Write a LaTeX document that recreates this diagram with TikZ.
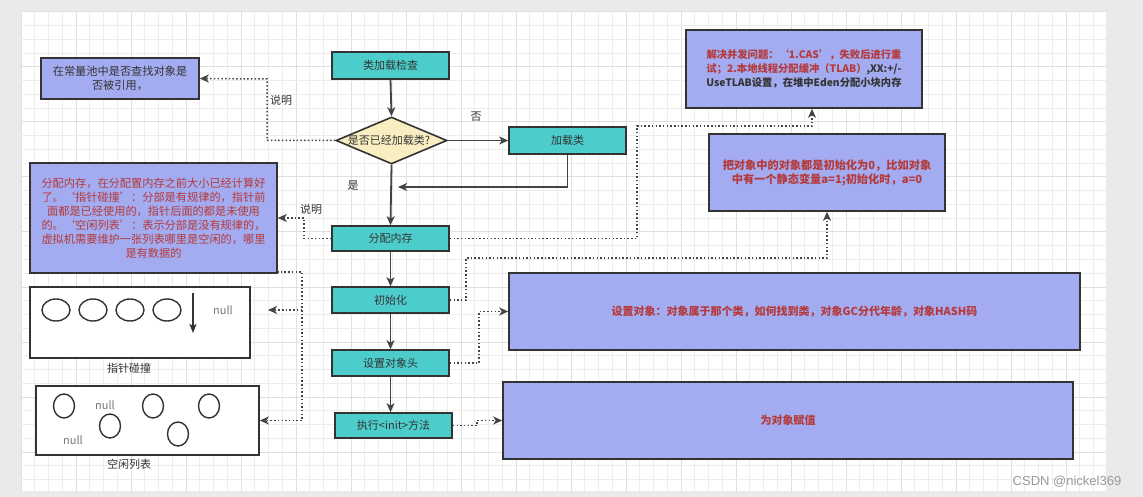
\documentclass[tikz,border=0pt]{standalone}
\usepackage{fontspec}
\setmainfont{Noto Sans CJK SC}
\newfontfamily\wmfont{Liberation Sans}
\usetikzlibrary{arrows.meta,shapes.geometric}
\definecolor{bgout}{HTML}{E9EAEC}
\definecolor{gridminor}{HTML}{EDEDED}
\definecolor{gridmajor}{HTML}{DFDFDF}
\definecolor{tealc}{HTML}{4CCDCC}
\definecolor{purp}{HTML}{A3ACF0}
\definecolor{diam}{HTML}{F8EEC2}
\definecolor{edgec}{HTML}{333333}
\definecolor{arrowc}{HTML}{444444}
\definecolor{txt}{HTML}{333333}
\definecolor{redt}{HTML}{B5393A}
\definecolor{nullc}{HTML}{777777}
\definecolor{wmc}{HTML}{9A9A9A}
\begin{document}
\begin{tikzpicture}[x=1pt,y=-1pt,
  flow/.style={draw=edgec, line width=1.6pt, fill=tealc, minimum width=117pt, minimum height=26pt, inner sep=0pt, font=\fontsize{11}{13}\selectfont, text=txt},
  notebox/.style={draw=edgec, line width=1.6pt, fill=purp, inner sep=0pt, align=center, font=\fontsize{11.2}{14}\selectfont, text=redt},
  whitebox/.style={draw=edgec, line width=1.6pt, fill=white, inner sep=0pt},
  blob/.style={draw=edgec, line width=1.4pt, ellipse, inner sep=0pt},
  lbl/.style={font=\fontsize{11}{13}\selectfont, text=txt, inner sep=0pt},
  nulltxt/.style={font=\fontsize{11}{13}\selectfont, text=nullc, inner sep=0pt},
  solidarrow/.style={draw=arrowc, line width=1.8pt, -{Stealth[length=9pt,width=8pt,inset=2.5pt]}},
  dotarrow/.style={draw=arrowc, line width=1.5pt, dash pattern=on 1.5pt off 2.2pt, -{Stealth[length=9pt,width=8pt,inset=2.5pt]}},
  dotline/.style={draw=arrowc, line width=1.5pt, dash pattern=on 1.5pt off 2.2pt}
]
\useasboundingbox (0,0) rectangle (1143,497);
% background and grid
\fill[bgout] (0,0) rectangle (1143,497);
\fill[white] (21,12) rectangle (1106,491);
\foreach \i in {0,...,78} {
  \pgfmathsetmacro{\xx}{21+13.75*\i}
  \ifnum\numexpr\i-4*(\i/4)\relax=0
    \draw[gridmajor, line width=1pt] (\xx,12) -- (\xx,491);
  \else
    \draw[gridminor, line width=1pt] (\xx,12) -- (\xx,491);
  \fi
}
\foreach \j in {0,...,34} {
  \pgfmathsetmacro{\yy}{12+13.75*\j}
  \ifnum\numexpr\j-4*(\j/4)\relax=0
    \draw[gridmajor, line width=1pt] (21,\yy) -- (1106,\yy);
  \else
    \draw[gridminor, line width=1pt] (21,\yy) -- (1106,\yy);
  \fi
}

% main flow
\node[flow, minimum height=27pt] (check) at (390.5,65.5) {类加载检查};
\node[draw=edgec, line width=1.6pt, fill=diam, diamond, minimum width=111pt, minimum height=47pt, inner sep=0pt] (dia) at (391.5,140.5) {};
\node[lbl] (diatext) at (389,140.5) {是否已经加载类?};
\node[flow, minimum height=27pt] (load) at (567.5,140.5) {加载类};
\node[flow, minimum height=25pt] (alloc) at (390.5,238.5) {分配内存};
\node[flow] (init) at (390.5,300) {初始化};
\node[flow] (header) at (390.5,363) {设置对象头};
\node[flow, minimum height=25pt] (exec) at (393.5,425.5) {执行<init>方法};

\node[lbl] (no) at (476,117) {否};
\node[lbl] (yes) at (353,186) {是};
\coordinate (ret) at (398,187);

\draw[solidarrow] (check.south) -- (dia.north);
\draw[solidarrow] (dia.east) -- (load.west);
\draw[solidarrow] (load.south) |- (ret);
\draw[solidarrow] (dia.south) -- (alloc.north);
\draw[solidarrow] (alloc.south) -- (init.north);
\draw[solidarrow] (init.south) -- (header.north);
\draw[solidarrow] (header.south) -- (header.south |- exec.north);

% left notes
\node[notebox, text=txt, minimum width=158pt, minimum height=41pt] (note1) at (120,78.5) {在常量池中是否查找对象是\\否被引用，};
\node[notebox, minimum width=247pt, minimum height=110pt] (note2) at (153.5,218) {分配内存，在分配置内存之前大小已经计算好\\了。‘指针碰撞’：分部是有规律的，指针前\\面都是已经使用的，指针后面的都是未使用\\的。‘空闲列表’：表示分部是没有规律的，\\虚拟机需要维护一张列表哪里是空闲的，哪里\\是有数据的};

\draw[dotarrow] (dia.west) -| (267,79) -- (note1.east);
\node[lbl] (say1) at (281,100) {说明};
\draw[dotarrow] (alloc.west) -| (304,218) -- (note2.east);
\node[lbl] (say2) at (311,209) {说明};

% pointer bump picture
\node[whitebox, minimum width=220pt, minimum height=71pt] (ptr) at (140,322.5) {};
\node[blob, minimum width=28pt, minimum height=22pt] (e1) at (56,310) {};
\node[blob, minimum width=28pt, minimum height=22pt] (e2) at (93,310) {};
\node[blob, minimum width=28pt, minimum height=22pt] (e3) at (130,310) {};
\node[blob, minimum width=28pt, minimum height=22pt] (e4) at (167,310) {};
\coordinate (pa) at (193,293);
\coordinate (pb) at (193,333);
\draw[draw=edgec, line width=1.5pt, -{Stealth[length=9pt,width=7pt,inset=2pt]}] (pa) -- (pb);
\node[nulltxt] (null1) at (223,310) {null};
\node[lbl] (ptrlbl) at (129,368) {指针碰撞};

% free list picture
\node[whitebox, minimum width=223pt, minimum height=69pt] (free) at (147.5,420.5) {};
\node[blob, minimum width=21pt, minimum height=24pt] (f1) at (64,406) {};
\node[blob, minimum width=21pt, minimum height=24pt] (f2) at (110,426) {};
\node[blob, minimum width=21pt, minimum height=24pt] (f3) at (153,406) {};
\node[blob, minimum width=21pt, minimum height=24pt] (f4) at (209,406) {};
\node[blob, minimum width=21pt, minimum height=24pt] (f5) at (178,434) {};
\node[nulltxt] (null2) at (105,405) {null};
\node[nulltxt] (null3) at (73,440) {null};
\node[lbl] (freelbl) at (129,464) {空闲列表};

\coordinate (n2out) at (277,272);
\coordinate (split) at (302,310);
\coordinate (ptrin) at (268,310);
\draw[dotline] (n2out) -| (split);
\draw[dotarrow] (split) -- (ptrin);
\draw[dotarrow] (split) |- (free.east);

% right notes
\node[notebox, font=\bfseries\fontsize{10.3}{14}\selectfont, minimum width=236pt, minimum height=78pt] (boxA) at (804,69) {解决并发问题：‘1.CAS’，失败后进行重\\试；2.本地线程分配缓冲（TLAB）\textcolor{txt}{,XX:+/-}\\\textcolor{txt}{UseTLAB设置，在堆中Eden分配小块内存}};
\node[notebox, font=\bfseries\fontsize{11.2}{14}\selectfont, minimum width=236pt, minimum height=77pt] (boxB) at (827,172.5) {把对象中的对象都是初始化为0，比如对象\\中有一个静态变量a=1;初始化时，a=0};
\node[notebox, font=\bfseries\fontsize{11}{14}\selectfont, minimum width=571pt, minimum height=77pt] (boxC) at (794.5,311.5) {设置对象：对象属于那个类，如何找到类，对象GC分代年龄，对象HASH码};
\node[notebox, font=\bfseries\fontsize{11}{14}\selectfont, minimum width=570pt, minimum height=77pt] (boxD) at (788,420.5) {为对象赋值};

\draw[dotarrow] (alloc.east) -| (637,126) -| ([xshift=8pt]boxA.south);
\draw[dotarrow] (init.east) -| (466,258) -| (boxB.south);
\draw[dotarrow] (header.east) -| (479,311.5) -- (boxC.west);
\draw[dotarrow] (exec.east) -| (477,420.5) -- (boxD.west);

% watermark
\node[font=\wmfont\fontsize{13}{15}\selectfont, text=wmc, inner sep=0pt] (wm) at (1067,482) {CSDN @nickel369};
\end{tikzpicture}
\end{document}
